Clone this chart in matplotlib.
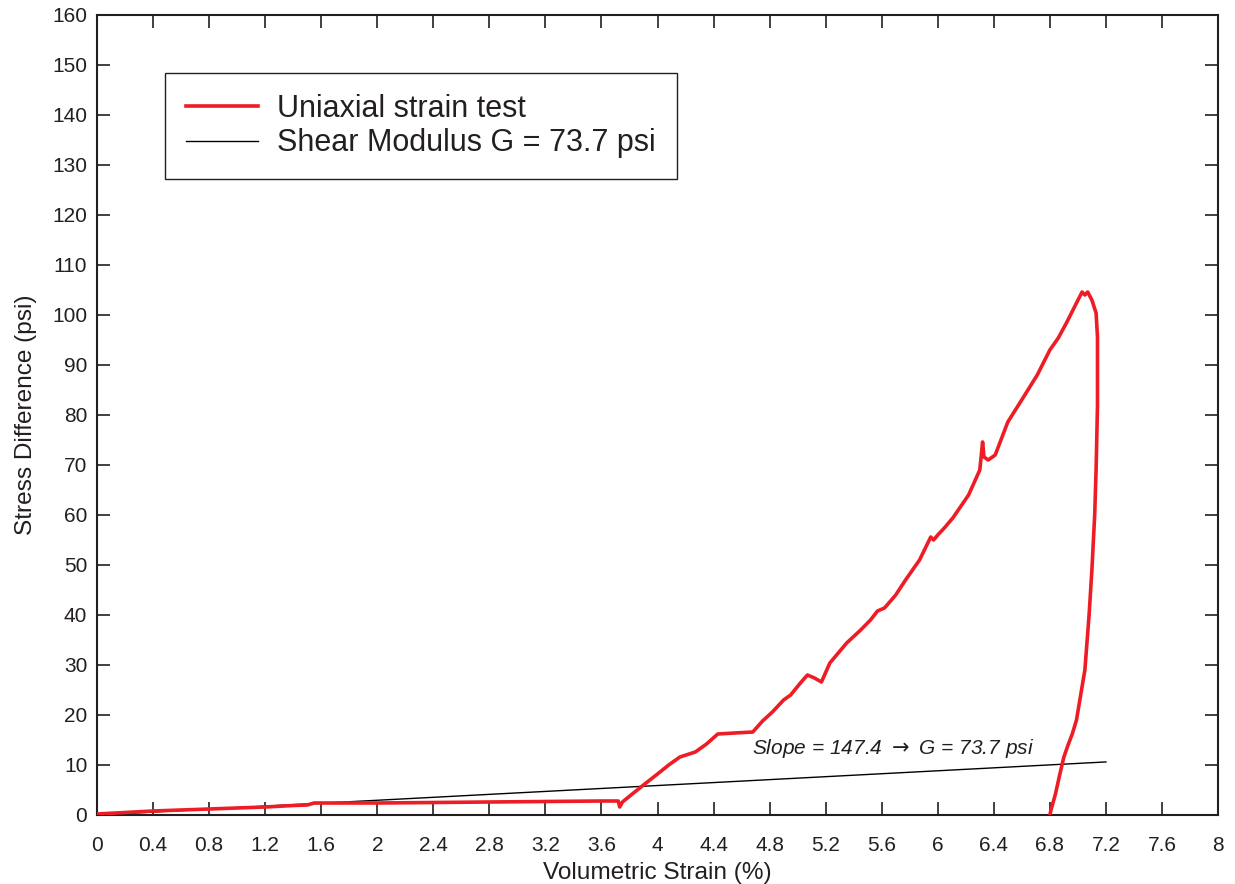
import numpy as np
import matplotlib
matplotlib.use("Agg")
import matplotlib.pyplot as plt
from matplotlib.ticker import MultipleLocator, FormatStrFormatter

strain = [0.0, 0.2, 0.4, 0.6, 0.8, 1.0, 1.2, 1.4, 1.5, 1.55, 1.6, 2.0, 2.4, 2.8, 3.2, 3.6, 3.72,
          3.73, 3.75, 3.82, 3.90, 4.0, 4.08, 4.16, 4.27, 4.35, 4.43, 4.55, 4.68,
          4.75, 4.82, 4.90, 4.95, 5.02, 5.07, 5.12, 5.17, 5.23, 5.35, 5.45, 5.52,
          5.57, 5.62, 5.70, 5.77, 5.87, 5.95, 5.97, 6.0, 6.05, 6.11, 6.22, 6.30,
          6.32, 6.33, 6.36, 6.41, 6.50, 6.59, 6.71, 6.80, 6.86, 6.92, 6.99, 7.03,
          7.05, 7.07, 7.10, 7.13, 7.14, 7.14, 7.13, 7.12, 7.10, 7.08, 7.05, 7.02,
          6.99, 6.96, 6.93, 6.90, 6.87, 6.84, 6.81, 6.80]
stress = [0.2, 0.5, 0.8, 1.0, 1.2, 1.4, 1.6, 1.9, 2.0, 2.4, 2.4, 2.4, 2.5, 2.6, 2.7, 2.8, 2.8,
          1.6, 2.6, 4.2, 6.0, 8.2, 10.0, 11.6, 12.6, 14.2, 16.2, 16.4, 16.6,
          18.8, 20.6, 23.0, 24.0, 26.4, 28.0, 27.4, 26.6, 30.4, 34.4, 37.0, 39.0,
          40.8, 41.4, 44.0, 47.0, 51.0, 55.6, 55.0, 56.0, 57.5, 59.5, 64.0, 69.0,
          74.6, 71.6, 71.0, 72.0, 78.6, 82.6, 88.0, 93.0, 95.4, 98.5, 102.4, 104.6,
          104.0, 104.6, 103.0, 100.4, 95.6, 82.0, 69.0, 60.0, 49.0, 40.0, 29.0, 24.0,
          19.0, 16.2, 14.0, 11.6, 8.0, 4.2, 1.2, 0.0]

# Schermodul-Gerade
slope = 147.4            # psi pro Einheitsdehnung
fit_x = [0.0, 7.2]
fit_y = [slope * v / 100 for v in fit_x]

dark = "#231f20"
plt.rcParams["font.family"] = ["Liberation Sans", "DejaVu Sans"]

fig = plt.figure(figsize=(12.35, 8.84), dpi=100)
ax = fig.add_axes([97 / 1235, 69 / 884, 1121 / 1235, 800 / 884])

ax.plot(strain, stress, color="#ee1c25", lw=2.6, label="Uniaxial strain test",
        solid_joinstyle="round", zorder=3)
ax.plot(fit_x, fit_y, color="black", lw=1.0, label="Shear Modulus G = 73.7 psi", zorder=2)

ax.text(5.68, 13.3, "Slope = 147.4 $\\rightarrow$ G = 73.7 psi", fontsize=15, style="italic",
        ha="center", va="center", color=dark)

ax.set_xlim(0, 8)
ax.set_ylim(0, 160)
ax.xaxis.set_major_locator(MultipleLocator(0.4))
ax.xaxis.set_major_formatter(FormatStrFormatter("%g"))
ax.yaxis.set_major_locator(MultipleLocator(10))

ax.tick_params(direction="in", length=9.5, width=1.2, top=True, right=True,
               labelsize=15, colors=dark)
ax.tick_params(axis="x", pad=15)
ax.tick_params(axis="y", pad=7)
for s in ax.spines.values():
    s.set_color(dark)
    s.set_linewidth(1.5)

ax.set_xlabel("Volumetric Strain (%)", fontsize=17.6, color=dark, labelpad=5)
ax.set_ylabel("Stress Difference (psi)", fontsize=17.6, color=dark, labelpad=11)

leg = ax.legend(loc="upper left", bbox_to_anchor=(68 / 1121, 1 - 58 / 800), fontsize=22,
                fancybox=False, framealpha=1, edgecolor=dark, handlelength=2.35,
                borderpad=0.68, labelspacing=0.15, handletextpad=0.65, borderaxespad=0)
leg.get_frame().set_linewidth(1.0)
for t in leg.get_texts():
    t.set_color(dark)

fig.savefig("out.png", dpi=100)
